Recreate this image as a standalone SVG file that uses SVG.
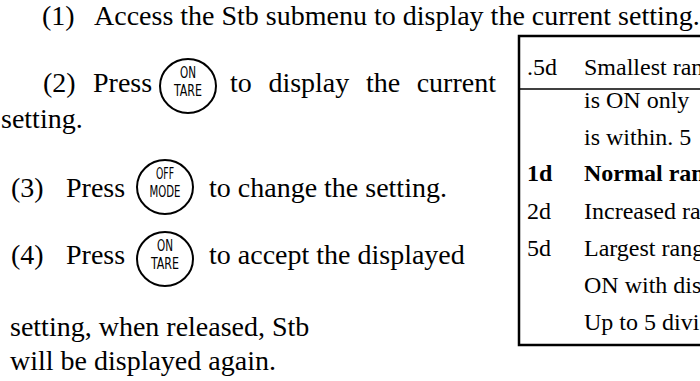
<svg xmlns="http://www.w3.org/2000/svg" width="700" height="381" viewBox="0 0 700 381">
<style>
.t{font-family:"Liberation Serif","Times New Roman",serif;font-size:28px;fill:#000}
.tb{font-family:"Liberation Serif","Times New Roman",serif;font-size:24px;fill:#000}
.b{font-weight:bold}
.k{font-family:"DejaVu Sans Condensed","DejaVu Sans",sans-serif;font-size:15px;fill:#000;text-anchor:middle}
.btn{fill:none;stroke:#000;stroke-width:2}
</style>
<rect width="700" height="381" fill="#fff"/>
<g id="step1">
<text class="t" x="42" y="25">(1)</text>
<text class="t" x="94" y="25">Access the Stb submenu to display the current setting.</text>
</g>
<g id="step2">
<text class="t" x="43" y="92">(2)</text>
<text class="t" x="93" y="92">Press</text>
<g id="btn-on-tare-1"><ellipse class="btn" cx="188" cy="86" rx="28" ry="27"/><text class="k" x="188" y="78" textLength="16" lengthAdjust="spacingAndGlyphs">ON</text><text class="k" x="188" y="96" textLength="28" lengthAdjust="spacingAndGlyphs">TARE</text></g>
<text class="t" y="92"><tspan x="230">to</tspan><tspan x="268.4">display</tspan><tspan x="365.9">the</tspan><tspan x="416.7">current</tspan></text>
<text class="t" x="1" y="128">setting.</text>
</g>
<g id="step3">
<text class="t" x="11" y="197">(3)</text>
<text class="t" x="66" y="197">Press</text>
<g id="btn-off-mode"><ellipse class="btn" cx="165" cy="187" rx="28" ry="27"/><text class="k" x="165" y="179" textLength="18" lengthAdjust="spacingAndGlyphs">OFF</text><text class="k" x="165" y="197" textLength="31" lengthAdjust="spacingAndGlyphs">MODE</text></g>
<text class="t" x="209" y="197">to change the setting.</text>
</g>
<g id="step4">
<text class="t" x="11" y="264">(4)</text>
<text class="t" x="66" y="264">Press</text>
<g id="btn-on-tare-2"><ellipse class="btn" cx="165" cy="259" rx="28" ry="27"/><text class="k" x="165" y="251" textLength="16" lengthAdjust="spacingAndGlyphs">ON</text><text class="k" x="165" y="269" textLength="28" lengthAdjust="spacingAndGlyphs">TARE</text></g>
<text class="t" x="209" y="264">to accept the displayed</text>
<text class="t" x="10" y="336">setting, when released, Stb</text>
<text class="t" x="10" y="370">will be displayed again.</text>
</g>
<g id="table">
<rect x="519" y="36" width="200" height="309" fill="none" stroke="#000" stroke-width="2.5"/>
<line x1="519" y1="89" x2="700" y2="89" stroke="#000" stroke-width="1.5"/>
<text class="tb" x="527" y="75">.5d</text><text class="tb" x="584" y="75">Smallest ran</text>
<text class="tb" x="584" y="108">is ON only</text>
<text class="tb" x="584" y="145">is within. 5</text>
<text class="tb b" x="527" y="181">1d</text><text class="tb b" x="584" y="181">Normal ran</text>
<text class="tb" x="527" y="219">2d</text><text class="tb" x="584" y="219">Increased ra</text>
<text class="tb" x="527" y="256">5d</text><text class="tb" x="584" y="256">Largest rang</text>
<text class="tb" x="584" y="293">ON with dis</text>
<text class="tb" x="584" y="330">Up to 5 divi</text>
</g>
</svg>
